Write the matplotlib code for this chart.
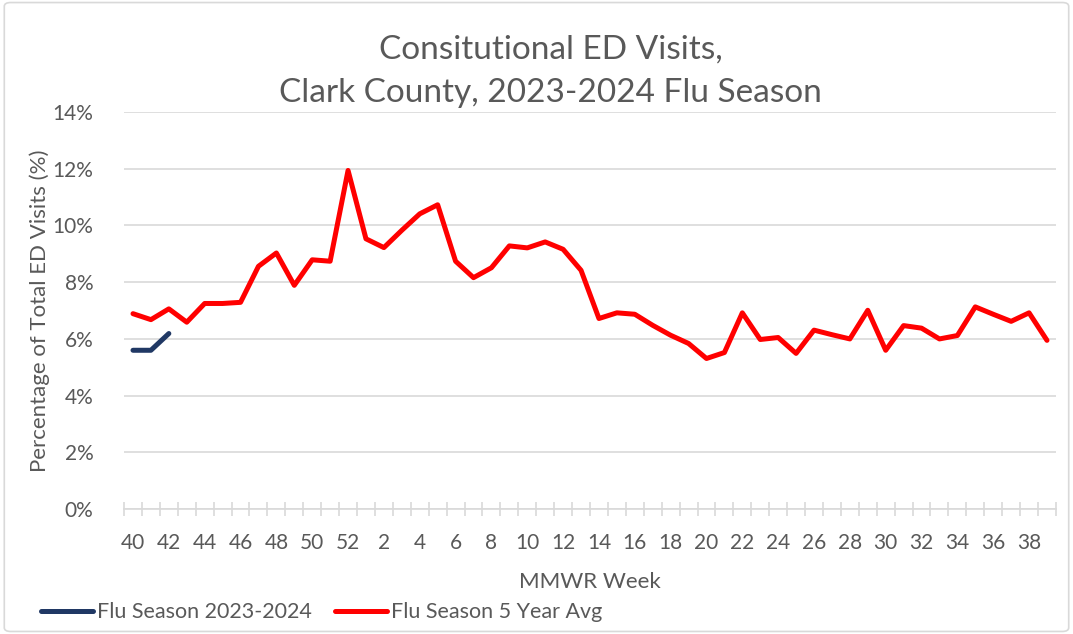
import numpy as np
import matplotlib
matplotlib.use("Agg")
import matplotlib.pyplot as plt
from matplotlib.patches import FancyBboxPatch

# MMWR weeks, season starts at week 40
weeks = list(range(40, 53)) + list(range(1, 40))

season_2023 = [5.60, 5.60, 6.19]

avg_5yr = [6.89, 6.68, 7.06, 6.59, 7.25, 7.25, 7.29, 8.56, 9.03, 7.89,
           8.79, 8.74, 11.94, 9.53, 9.22, 9.83, 10.41, 10.73, 8.74, 8.16,
           8.51, 9.28, 9.21, 9.42, 9.16, 8.42, 6.72, 6.92, 6.87, 6.48,
           6.13, 5.84, 5.31, 5.52, 6.92, 5.98, 6.05, 5.49, 6.31, 6.15,
           6.00, 7.01, 5.60, 6.47, 6.38, 6.00, 6.12, 7.13, 6.87, 6.62,
           6.92, 5.95]

grey = "#595959"
plt.rcParams["font.family"] = ["Lato", "DejaVu Sans"]

fig = plt.figure(figsize=(10.73, 6.34), dpi=100)
ax = fig.add_axes([0.1156, 0.197, 0.8685, 0.6263])

x = np.arange(len(weeks))
ax.plot(x[:len(season_2023)], season_2023, color="#203864", lw=3.6,
        solid_capstyle="round", solid_joinstyle="round", label="Flu Season 2023-2024")
ax.plot(x, avg_5yr, color="#ff0000", lw=3.6,
        solid_capstyle="round", solid_joinstyle="round", label="Flu Season 5 Year Avg")

ax.set_xlim(-0.5, len(weeks) - 0.5)
ax.set_ylim(0, 14)
ax.set_yticks(np.arange(0, 15, 2))
ax.set_yticklabels([f"{v}%" for v in range(0, 15, 2)])
ax.set_xticks(x[::2])
ax.set_xticklabels([str(w) for w in weeks[::2]])
ax.set_xticks(np.arange(-0.5, len(weeks), 1), minor=True)

ax.grid(axis="y", color="#d9d9d9", lw=1.2)
ax.set_axisbelow(True)
for s in ["top", "right", "left"]:
    ax.spines[s].set_visible(False)
ax.spines["bottom"].set_color("#d9d9d9")
ax.spines["bottom"].set_linewidth(1.2)
ax.tick_params(axis="y", length=0, labelsize=15, labelcolor=grey, pad=22)
ax.tick_params(axis="x", which="major", length=0, labelsize=15, labelcolor=grey, pad=17)
ax.tick_params(axis="x", which="minor", direction="inout", length=10, color="#d9d9d9", width=1.2)

ax.set_xlabel("MMWR Week", fontsize=16, color=grey, labelpad=14)
ax.set_ylabel("Percentage of Total ED Visits (%)", fontsize=16, color=grey, labelpad=2)

fig.suptitle("Consitutional ED Visits,\nClark County, 2023-2024 Flu Season",
             x=0.513, y=0.945, fontsize=24, color=grey, linespacing=1.55)

fig.legend(loc="lower left", bbox_to_anchor=(0.02, -0.012), ncol=2, frameon=False,
           fontsize=15.5, labelcolor=grey, handlelength=2.4, handletextpad=0.2,
           columnspacing=1.1)

border = FancyBboxPatch((0.004, 0.004), 0.992, 0.992, boxstyle="round,pad=0,rounding_size=0.006",
                        transform=fig.transFigure, fill=False, edgecolor="#d9d9d9", lw=1.2)
fig.patches.append(border)

fig.savefig("out.png", dpi=100)
